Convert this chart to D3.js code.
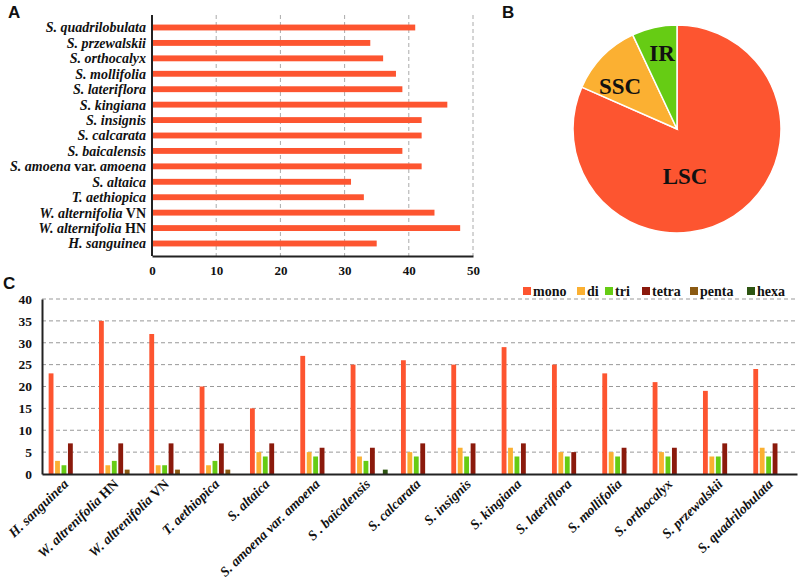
<!DOCTYPE html>
<html><head><meta charset="utf-8">
<script src="https://cdn.jsdelivr.net/npm/d3@7"></script>
<style>
body{margin:0;background:#fff;}
svg{display:block;}
</style></head><body>
<svg id="c" width="800" height="582"></svg>
<script>
// ---------- DATA ----------
// Panel A (counts per species)
const speciesA = [
  [["H. sanguinea",true]],
  [["W. alternifolia",true],[" HN",false]],
  [["W. alternifolia",true],[" VN",false]],
  [["T. aethiopica",true]],
  [["S. altaica",true]],
  [["S. amoena",true],[" var. ",false],["amoena",true]],
  [["S. baicalensis",true]],
  [["S. calcarata",true]],
  [["S. insignis",true]],
  [["S. kingiana",true]],
  [["S. lateriflora",true]],
  [["S. mollifolia",true]],
  [["S. orthocalyx",true]],
  [["S. przewalskii",true]],
  [["S. quadrilobulata",true]]
];
const totalsA = [35, 48, 44, 33, 31, 42, 39, 42, 42, 46, 39, 38, 36, 34, 41];
const ticksA = [0, 10, 20, 30, 40, 50];

// Panel B
const regions = ["LSC", "SSC", "IR"];
const regionShare = [81.6, 11.4, 7.0];

// Panel C
const speciesC = [
  [["H. sanguinea",true]],
  [["W. altrenifolia",true],[" HN",false]],
  [["W. altrenifolia",true],[" VN",false]],
  [["T. aethiopica",true]],
  [["S. altaica",true]],
  [["S. amoena var. amoena",true]],
  [["S . baicalensis",true]],
  [["S. calcarata",true]],
  [["S. insignis",true]],
  [["S. kingiana",true]],
  [["S. lateriflora",true]],
  [["S. mollifolia",true]],
  [["S. orthocalyx",true]],
  [["S. przewalskii",true]],
  [["S. quadrilobulata",true]]
];
const seriesC = ["mono", "di", "tri", "tetra", "penta", "hexa"];
const mono  = [23, 35, 32, 20, 15, 27, 25, 26, 25, 29, 25, 23, 21, 19, 24];
const di    = [3, 2, 2, 2, 5, 5, 4, 5, 6, 6, 5, 5, 5, 4, 6];
const tri   = [2, 3, 2, 3, 4, 4, 3, 4, 4, 4, 4, 4, 4, 4, 4];
const tetra = [7, 7, 7, 7, 7, 6, 6, 7, 7, 7, 5, 6, 6, 7, 7];
const penta = [0, 1, 1, 1, 0, 0, 0, 0, 0, 0, 0, 0, 0, 0, 0];
const hexa  = [0, 0, 0, 0, 0, 0, 1, 0, 0, 0, 0, 0, 0, 0, 0];
const ticksC = [0, 5, 10, 15, 20, 25, 30, 35, 40];

// ---------- STYLE ----------
const RED = "#FD5530", ORANGE = "#FBB032", GREEN = "#66CC14";
const seriesColors = [RED, ORANGE, GREEN, "#8B1A0C", "#8B5A12", "#2E5512"];
const regionColors = [RED, ORANGE, GREEN];
const SERIF = "'Liberation Serif', 'Times New Roman', 'DejaVu Serif', serif";

const svg = d3.select("#c");

function serif(sel, size){
  return sel.style("font-family", SERIF).style("font-weight", "bold")
    .style("font-size", size + "px").attr("fill", "#111");
}
function addParts(textSel, parts){
  parts.forEach(([t, it]) => {
    textSel.append("tspan").text(t).style("font-style", it ? "italic" : "normal");
  });
}

// Panel letters
[["A",8,18],["B",502,18],["C",3,289]].forEach(([t,x,y]) => {
  svg.append("text").attr("x",x).attr("y",y).text(t)
    .style("font-family","'Liberation Sans',Arial,sans-serif").style("font-weight","bold")
    .style("font-size","17px").attr("fill","#111");
});

// ---------- Panel A ----------
{
  const keys = speciesA.map((d,i) => i);
  const x = d3.scaleLinear().domain([0, 50]).range([152, 473]);
  const y = d3.scaleBand().domain(keys.slice().reverse()).range([15, 256]).padding(0.62);
  const g = svg.append("g");
  g.selectAll("line.grid").data(ticksA.slice(1)).join("line")
    .attr("x1", d => x(d)).attr("x2", d => x(d)).attr("y1", 15).attr("y2", 256)
    .attr("stroke", "#aaa").attr("stroke-width", 1).attr("stroke-dasharray", "4,3");
  g.selectAll("rect").data(keys).join("rect")
    .attr("x", x(0)).attr("y", i => y(i)).attr("width", i => x(totalsA[i]) - x(0))
    .attr("height", y.bandwidth()).attr("fill", RED);
  const xa = g.append("g").attr("transform","translate(0,256)")
    .call(d3.axisBottom(x).tickValues(ticksA).tickSize(0).tickPadding(10));
  xa.select(".domain").attr("stroke","#222").attr("stroke-width",2);
  serif(xa.selectAll("text"), 13);
  const ya = g.append("g").attr("transform","translate(152,0)")
    .call(d3.axisLeft(y).tickSize(0).tickFormat(""));
  ya.select(".domain").attr("stroke","#222").attr("stroke-width",2).attr("d","M0,15V256");
  keys.forEach(i => {
    const t = g.append("text")
      .attr("x", 146).attr("y", y(i) + y.bandwidth()/2).attr("dy","0.35em").attr("text-anchor","end");
    serif(t, 14);
    addParts(t, speciesA[i]);
  });
}

// ---------- Panel B ----------
{
  const cx = 677, cy = 129, r = 104;
  const pie = d3.pie().sort(null).value(d => d.v);
  const arcs = pie(regions.map((k,i) => ({k, v: regionShare[i], c: regionColors[i]})));
  const arc = d3.arc().innerRadius(0).outerRadius(r);
  const g = svg.append("g").attr("transform", `translate(${cx},${cy})`);
  g.selectAll("path").data(arcs).join("path").attr("d", arc)
    .attr("fill", d => d.data.c).attr("stroke","#fff").attr("stroke-width",1.5);
  const labelPos = {LSC: [8, 47], SSC: [-57, -43], IR: [-15, -76]};
  const lt = g.selectAll("text").data(arcs).join("text")
    .attr("text-anchor","middle").attr("dy","0.35em")
    .attr("x", d => labelPos[d.data.k][0]).attr("y", d => labelPos[d.data.k][1])
    .text(d => d.data.k);
  serif(lt, 23);
}

// ---------- Panel C ----------
{
  const vals = [mono, di, tri, tetra, penta, hexa];
  const keys = speciesC.map((d,i) => i);
  const x0 = d3.scaleBand().domain(keys).range([42, 797]).paddingInner(0.2).paddingOuter(0.1);
  const x1 = d3.scaleBand().domain(seriesC).range([0, x0.bandwidth()]).padding(0.25);
  const y = d3.scaleLinear().domain([0, 40]).range([474, 299]);
  const g = svg.append("g");
  g.selectAll("line.grid").data(ticksC.slice(1)).join("line")
    .attr("x1", 42).attr("x2", 797).attr("y1", d => y(d)).attr("y2", d => y(d))
    .attr("stroke","#999").attr("stroke-width",1).attr("stroke-dasharray","4,3");
  const grp = g.selectAll("g.grp").data(keys).join("g")
    .attr("transform", i => `translate(${x0(i)},0)`);
  grp.selectAll("rect").data(i => seriesC.map((s,j) => ({s, v: vals[j][i], c: seriesColors[j]})))
    .join("rect")
    .attr("x", d => x1(d.s)).attr("width", x1.bandwidth())
    .attr("y", d => y(d.v)).attr("height", d => y(0) - y(d.v)).attr("fill", d => d.c);
  const ya = g.append("g").attr("transform","translate(42,0)")
    .call(d3.axisLeft(y).tickValues(ticksC).tickSize(0).tickPadding(10));
  ya.select(".domain").attr("stroke","#222").attr("stroke-width",2);
  serif(ya.selectAll("text"), 13.5);
  const xa = g.append("g").attr("transform","translate(0,474)")
    .call(d3.axisBottom(x0).tickSize(0).tickFormat(""));
  xa.select(".domain").attr("stroke","#222").attr("stroke-width",2);
  keys.forEach(i => {
    const cxp = x0(i) + x0.bandwidth()/2 + 2;
    const t = g.append("text").attr("text-anchor","end")
      .attr("transform", `translate(${cxp},485) rotate(-44)`);
    serif(t, 13.8);
    addParts(t, speciesC[i]);
  });
  const legX = [523, 577, 605, 642, 690, 747];
  const lg = g.append("g");
  seriesC.forEach((s, j) => {
    lg.append("rect").attr("x", legX[j]).attr("y", 287).attr("width", 8).attr("height", 8).attr("fill", seriesColors[j]);
    serif(lg.append("text").attr("x", legX[j] + 10).attr("y", 295.5).text(s), 14);
  });
}
</script>
</body></html>
